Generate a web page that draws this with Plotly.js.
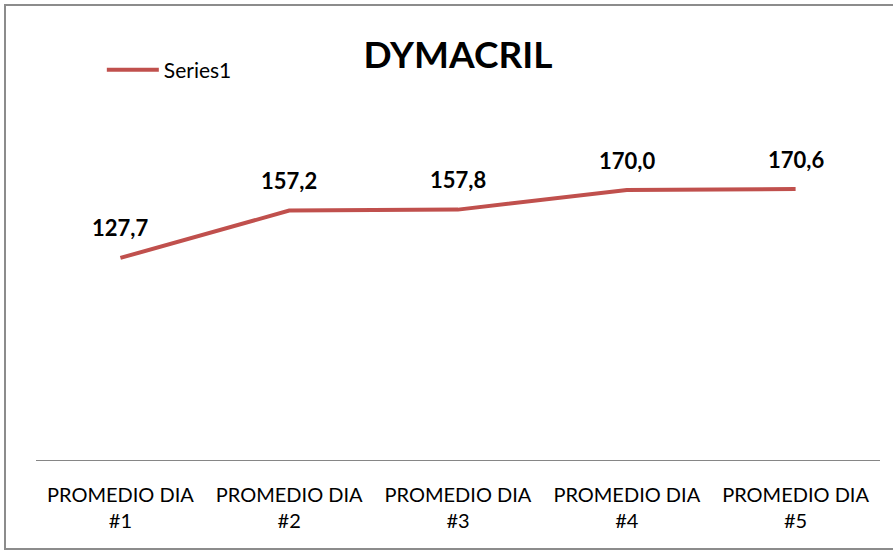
<!DOCTYPE html>
<html><head><meta charset="utf-8">
<script src="https://cdn.plot.ly/plotly-3.0.1.min.js"></script>
<style>
html,body{margin:0;padding:0;background:#fff;overflow:hidden}
#wrap{position:relative;width:893px;height:554px}
#chart{position:absolute;left:0;top:0;width:893px;height:554px}
#frame{position:absolute;left:4px;top:4px;width:900px;height:546px;border:2px solid #8c8c8c;pointer-events:none;box-sizing:border-box}
</style></head>
<body><div id="wrap"><div id="chart"></div><div id="frame"></div></div>
<script>
const categories = ["PROMEDIO DIA<br>#1","PROMEDIO DIA<br>#2","PROMEDIO DIA<br>#3","PROMEDIO DIA<br>#4","PROMEDIO DIA<br>#5"];
const seriesName = "Series1";
const values = [127.7, 157.2, 157.8, 170.0, 170.6];
const chartTitle = "DYMACRIL";

const fmt = v => v.toFixed(1).replace('.', ',');

const trace = {
  x: categories, y: values, type: 'scatter', mode: 'lines', name: seriesName,
  line: {color: '#C0504D', width: 4}, hoverinfo: 'none'
};

const annotations = values.map((v, i) => ({
  x: categories[i], y: v, xref: 'x', yref: 'y', text: fmt(v), showarrow: false,
  yshift: 30, font: {family: 'Lato, sans-serif', size: 22, color: '#000', weight: 'bold'}
}));

const layout = {
  width: 893, height: 554,
  margin: {l: 36, r: 13, t: 139, b: 94},
  paper_bgcolor: '#fff', plot_bgcolor: '#fff',
  title: {text: '<b>' + chartTitle + '</b>', font: {family: 'Lato, sans-serif', size: 37, color: '#000'},
          x: 0.5, xref: 'paper', y: 1 - 55/554, yref: 'container', yanchor: 'middle'},
  showlegend: true,
  legend: {x: 0.078, y: 1 + (139 - 70) / 321, xanchor: 'left', yanchor: 'middle', yref: 'paper',
           itemwidth: 52,
           font: {family: 'Lato, sans-serif', size: 21, color: '#000'}, bgcolor: 'rgba(0,0,0,0)'},
  xaxis: {type: 'category', showgrid: false, zeroline: false, showline: true, linecolor: '#868686', linewidth: 1,
          ticks: 'outside', ticklen: 17, tickcolor: 'rgba(0,0,0,0)',
          tickfont: {family: 'Lato, sans-serif', size: 20, color: '#000'}, range: [-0.5, 4.5]},
  yaxis: {range: [1.8, 201.8], visible: false, showgrid: false, zeroline: false},
  annotations: annotations
};

Plotly.newPlot('chart', [trace], layout, {displayModeBar: false, staticPlot: true});
</script></body></html>
